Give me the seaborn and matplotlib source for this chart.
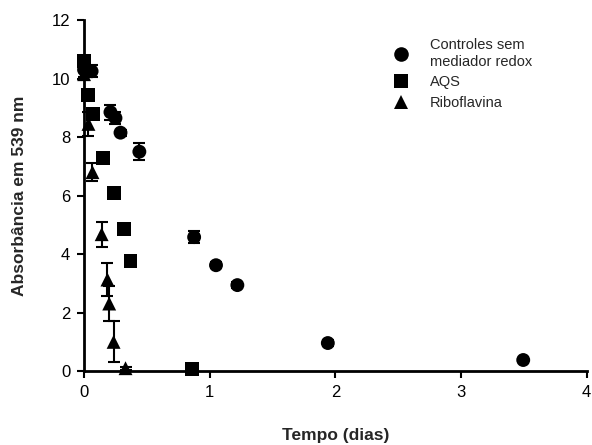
import numpy as np
import pandas as pd
import seaborn as sns
import matplotlib
matplotlib.use("Agg")
import matplotlib.pyplot as plt

# Controles sem mediador redox
ctrl_x = [0.0, 0.06, 0.21, 0.25, 0.29, 0.44, 0.876, 1.05, 1.22, 1.94, 3.495]
ctrl_y = [10.3, 10.25, 8.85, 8.65, 8.15, 7.5, 4.58, 3.62, 2.94, 0.96, 0.38]
ctrl_err = [0.25, 0.2, 0.25, 0.2, 0.1, 0.3, 0.2, 0.1, 0.1, 0.1, 0.05]

# AQS
aqs_x = [0.0, 0.03, 0.074, 0.154, 0.24, 0.32, 0.37, 0.86]
aqs_y = [10.6, 9.45, 8.8, 7.27, 6.08, 4.85, 3.77, 0.07]
aqs_err = [0.15, 0.1, 0.1, 0.1, 0.1, 0.1, 0.1, 0.05]

# Riboflavina
ribo_x = [0.0, 0.035, 0.067, 0.14, 0.186, 0.2, 0.235, 0.33]
ribo_y = [10.15, 8.45, 6.8, 4.68, 3.13, 2.31, 1.0, 0.1]
ribo_err = [0.2, 0.4, 0.3, 0.43, 0.55, 0.6, 0.7, 0.05]

series = ["Controles sem\nmediador redox", "AQS", "Riboflavina"]
markers = ["o", "s", "^"]

df = pd.concat([
    pd.DataFrame({"x": ctrl_x, "y": ctrl_y, "err": ctrl_err, "serie": series[0]}),
    pd.DataFrame({"x": aqs_x, "y": aqs_y, "err": aqs_err, "serie": series[1]}),
    pd.DataFrame({"x": ribo_x, "y": ribo_y, "err": ribo_err, "serie": series[2]}),
])

sns.set_style("ticks")
plt.rcParams["font.family"] = ["Liberation Sans", "DejaVu Sans"]

fig = plt.figure(figsize=(5.92, 4.45), dpi=100)
ax = fig.add_axes([0.142, 0.166, 0.849, 0.789])

# error bars first
for s in series:
    d = df[df["serie"] == s]
    eb = ax.errorbar(d["x"], d["y"], yerr=d["err"], fmt="none", ecolor="black",
                     elinewidth=1.5, capsize=4, capthick=1.5, zorder=2)
    for art in eb.get_children():
        art.set_clip_on(False)

sns.scatterplot(data=df, x="x", y="y", style="serie", style_order=series,
                markers=dict(zip(series, markers)), color="black", s=100,
                edgecolor="black", linewidth=0, ax=ax, zorder=3, clip_on=False)

ax.set_xlim(0, 4)
ax.set_ylim(0, 12)
ax.set_xticks([0, 1, 2, 3, 4])
ax.set_yticks([0, 2, 4, 6, 8, 10, 12])
ax.tick_params(axis="both", labelsize=12, direction="out", length=5, width=1.5,
               colors="black", pad=5)
for sp in ["left", "bottom"]:
    ax.spines[sp].set_linewidth(2)
    ax.spines[sp].set_color("black")
sns.despine(ax=ax)

ax.set_xlabel("Tempo (dias)", fontsize=12.5, fontweight="bold", labelpad=20)
ax.set_ylabel("Absorbância em 539 nm", fontsize=12.5, fontweight="bold", labelpad=18)

leg = ax.legend(loc="upper left", bbox_to_anchor=(0.575, 0.985), frameon=False,
                fontsize=10.5, handletextpad=1.0, labelspacing=0.45, markerscale=1.05)

fig.savefig("out.png", dpi=100)
